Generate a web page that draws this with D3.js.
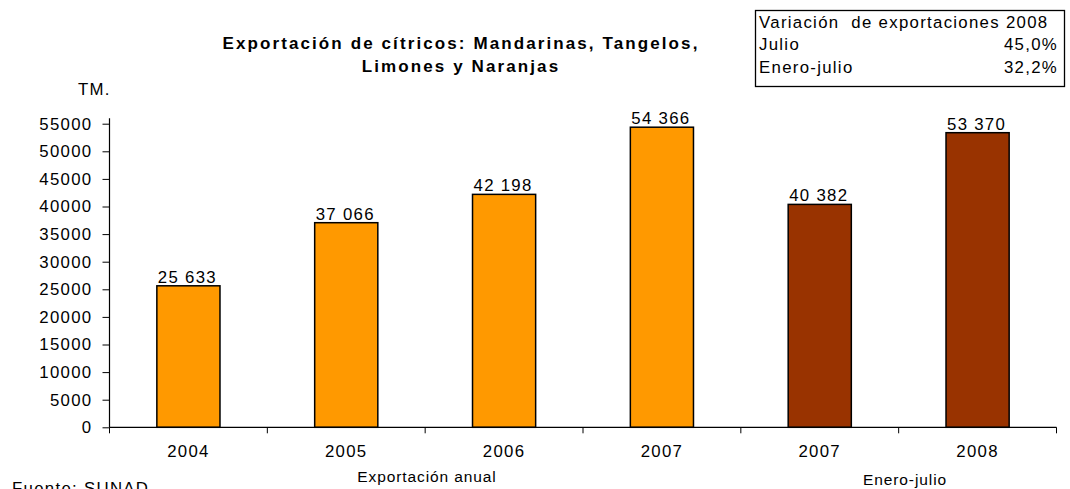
<!DOCTYPE html>
<html><head><meta charset="utf-8">
<script src="https://cdn.jsdelivr.net/npm/d3@7"></script>
<style>body{margin:0;background:#fff;} svg{display:block;font-family:"Liberation Sans",Arial,sans-serif;}</style>
</head><body><svg id="c" width="1070" height="489"></svg>
<script>
const categories = ["2004","2005","2006","2007","2007","2008"];
const keys = ["a2004","a2005","a2006","a2007","e2007","e2008"];
const values = [25633, 37066, 42198, 54366, 40382, 53370];
const groups = ["anual","anual","anual","anual","enero","enero"];
const yTicks = [0,5000,10000,15000,20000,25000,30000,35000,40000,45000,50000,55000];
const colors = {anual:"#FF9900", enero:"#993300"};
const legendRows = [["Julio","45,0%"],["Enero-julio","32,2%"]];

const FS = 16.8, LS = 1.3;
const svg = d3.select("#c");
const x0 = 109.5, x1 = 1056.5, yBase = 427.3;
const y = d3.scaleLinear().domain([0,56000]).range([yBase, yBase - 56000/5000*27.6]);
const x = d3.scaleBand().domain(keys).range([x0,x1]).paddingInner(0.6).paddingOuter(0.3);

const fmt = v => { const s = String(v); return s.slice(0,s.length-3)+" "+s.slice(-3); };
const txt = (sel) => sel.attr("font-size",FS).attr("letter-spacing",LS).attr("fill","#000");

// bars
svg.selectAll("rect.bar").data(values).enter().append("rect")
  .attr("x",(d,i)=>x(keys[i])).attr("width",x.bandwidth())
  .attr("y",d=>y(d)).attr("height",d=>yBase-y(d))
  .attr("fill",(d,i)=>colors[groups[i]]).attr("stroke","#000").attr("stroke-width",1.5);

// value labels
svg.selectAll("text.val").data(values).enter().append("text")
  .attr("x",(d,i)=>x(keys[i])+x.bandwidth()/2-1).attr("y",d=>y(d)-3)
  .attr("text-anchor","middle").call(txt).text(d=>fmt(d));

// y axis
const ya = svg.append("g").attr("transform",`translate(${x0},0)`)
  .call(d3.axisLeft(y).tickValues(yTicks).tickSize(7).tickPadding(10).tickFormat(d3.format("d")));
ya.select(".domain").attr("d",`M0,${y(56000)}V${yBase}`).attr("stroke","#000").attr("stroke-width",1.2);
ya.selectAll(".tick line").attr("stroke","#000");
ya.selectAll("text").call(txt).attr("font-family","Liberation Sans,Arial,sans-serif");

// x axis
const xb = d3.scaleLinear().domain([0,6]).range([x0,x1]);
const xa = svg.append("g");
xa.append("line").attr("x1",x0).attr("x2",x1).attr("y1",yBase).attr("y2",yBase).attr("stroke","#000").attr("stroke-width",1.2);
xa.selectAll("line.t").data(d3.range(7)).enter().append("line")
  .attr("x1",d=>xb(d)).attr("x2",d=>xb(d)).attr("y1",yBase).attr("y2",yBase+6).attr("stroke","#000");
xa.selectAll("text").data(categories).enter().append("text")
  .attr("x",(d,i)=>x(keys[i])+x.bandwidth()/2).attr("y",yBase+29.5)
  .attr("text-anchor","middle").call(txt).text(d=>d);

// group labels
svg.append("text").attr("x",427).attr("y",482).attr("text-anchor","middle").attr("font-size",15.5).attr("letter-spacing",0.9).text("Exportación anual");
svg.append("text").attr("x",905).attr("y",485).attr("text-anchor","middle").attr("font-size",15.5).attr("letter-spacing",0.9).text("Enero-julio");
svg.append("text").attr("x",12).attr("y",494).call(txt).text("Fuente: SUNAD");

// title
const t = svg.append("text").attr("text-anchor","middle").attr("font-size",17).attr("font-weight","bold").attr("letter-spacing",2.1);
t.append("tspan").attr("x",461).attr("y",49).text("Exportación de cítricos: Mandarinas, Tangelos,");
t.append("tspan").attr("x",461).attr("y",72).text("Limones y Naranjas");
svg.append("text").attr("x",78).attr("y",95).call(txt).text("TM.");

// legend box
svg.append("rect").attr("x",755.5).attr("y",10.5).attr("width",309).attr("height",76).attr("fill","#fff").attr("stroke","#000").attr("stroke-width",1.3);
svg.append("text").attr("x",759).attr("y",28).call(txt).attr("xml:space","preserve").text("Variación  de exportaciones 2008");
legendRows.forEach((r,i)=>{
  svg.append("text").attr("x",759).attr("y",50+i*22.5).call(txt).text(r[0]);
  svg.append("text").attr("x",1058).attr("y",50+i*22.5).attr("text-anchor","end").call(txt).text(r[1]);
});
</script></body></html>
